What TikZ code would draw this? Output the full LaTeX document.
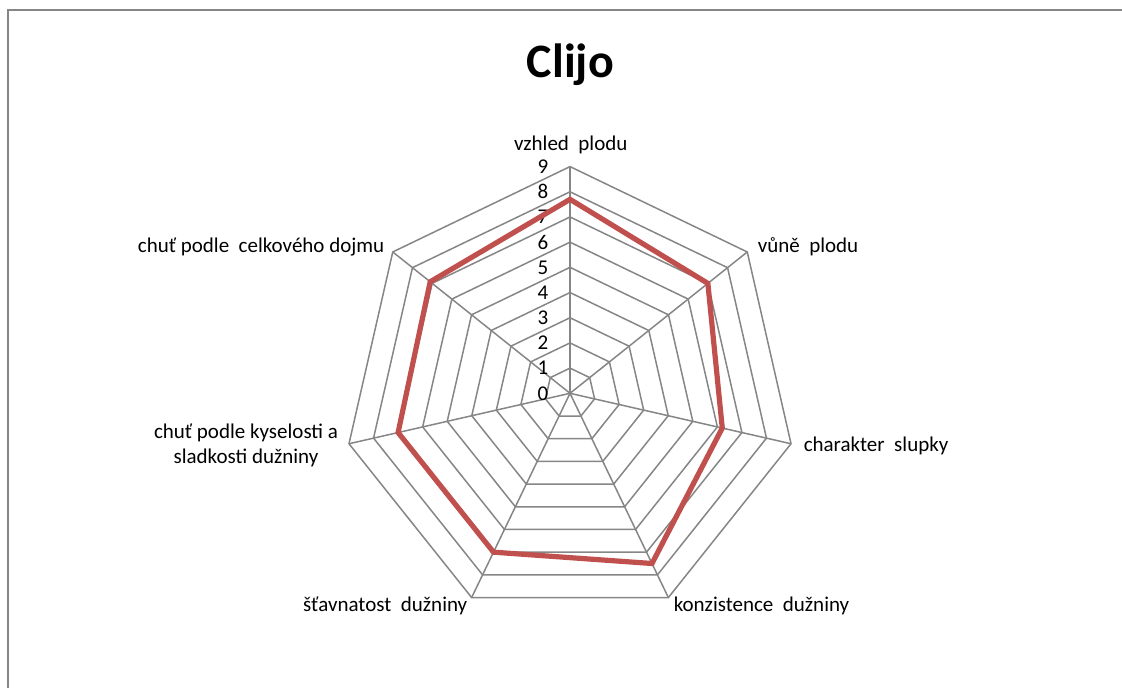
\documentclass[tikz,border=0pt]{standalone}
\usepackage{fontspec}
\setmainfont{Carlito}
\definecolor{gridgray}{RGB}{134,134,134}
\definecolor{seriesred}{RGB}{192,80,77}
\tikzset{
	% ---- default
	every path/.style={line width=0.75pt},
	every node/.style={font=\fontsize{10.5}{12.5}\selectfont, inner sep=0pt},
	% ---- custom
	frame/.style={gridgray, line width=1pt},
	grid/.style={gridgray, line width=0.75pt},
	series/.style={seriesred, line width=2.6pt, line join=miter},
	axislabel/.style={anchor=base west},
	title/.style={font=\fontsize{24}{28}\selectfont\bfseries, anchor=base},
}

\begin{document}
\begin{tikzpicture}[x=0.5pt, y=0.5pt]

% parameters %{{{2

	\def\unit{25.19}
	\def\numaxes{7}
	\def\rotation{90}

% bounding box, frame %{{{2

	\useasboundingbox (0,0) rectangle (1122,687);
	\draw[frame] (8,-10) -- (8,677) -- (1140,677);

% title %{{{2

	\node[title] (title) at (570.5,610) {Clijo};

% chart %{{{2

\begin{scope}[shift={(570,293.7)}]

	\coordinate (O) at (0,0);

% coordinates for grid vertices %{{{3

	\foreach \i in {1,...,\numaxes} {
		\foreach \k in {1,...,9} {
			\coordinate (G\k-\i) at ({\rotation-360/\numaxes*(\i-1)}:{\k*\unit});
		}
	}

% coordinates for data points %{{{3

	\foreach \v [count=\i] in {7.7,7.0,6.2,7.5,7.0,7.0,7.1} {
		\coordinate (D\i) at ({\rotation-360/\numaxes*(\i-1)}:{\v*\unit});
	}

% grid rings %{{{3

	\foreach \k in {1,...,9} {
		\draw[grid] (G\k-1) \foreach \i in {2,...,\numaxes} { -- (G\k-\i) } -- cycle;
	}

% spokes %{{{3

	\foreach \i in {1,...,\numaxes} { \draw[grid] (O) -- (G9-\i); }

% scale labels %{{{3

	\foreach \k in {0,...,9} {
		\node[anchor=east] (S\k) at (-21,{\k*\unit}) {\k};
	}

% series %{{{3

	\draw[series] (D1) \foreach \i in {2,...,\numaxes} { -- (D\i) } -- cycle;

\end{scope}

% axis labels %{{{2

	\node[anchor=base] (L1) at (570.8,537) {vzhled\ \ plodu};
	\node[axislabel] (L2) at (757,434.7) {vůně\ \ plodu};
	\node[axislabel] (L3) at (803,235.3) {charakter\ \ slupky};
	\node[axislabel] (L4) at (673,76) {konzistence\ \ dužniny};
	\node[anchor=base east] (L5) at (468,76) {šťavnatost\ \ dužniny};
	\node[align=center] (L6) at (246,241.5) {chuť podle kyselosti a\\sladkosti dužniny};
	\node[anchor=base east] (L7) at (385,435) {chuť podle\ \ celkového dojmu};

% closing %{{{2

\end{tikzpicture}
\end{document}
